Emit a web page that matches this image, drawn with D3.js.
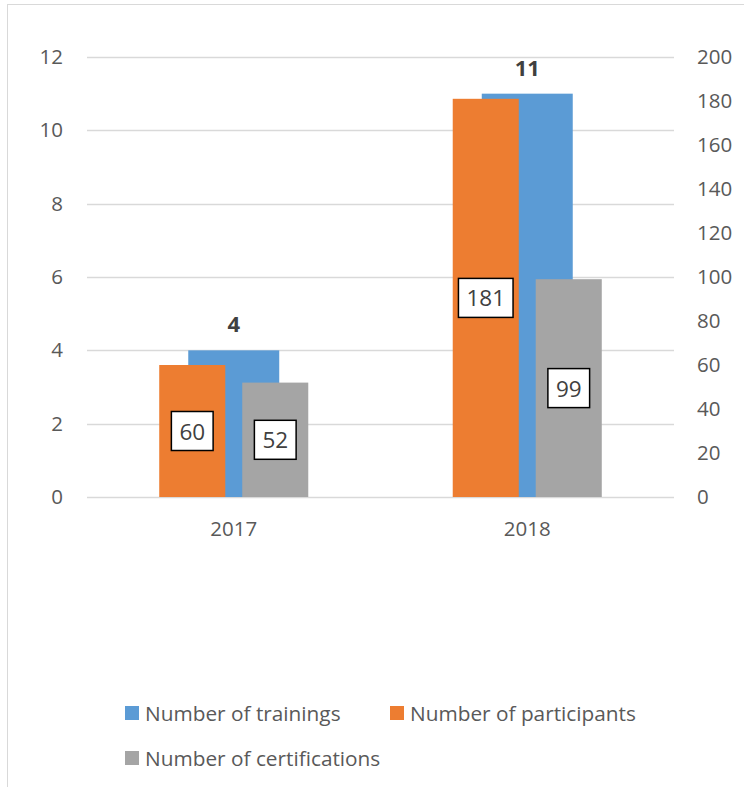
<!DOCTYPE html>
<html><head><meta charset="utf-8">
<script src="https://cdn.jsdelivr.net/npm/d3@7"></script>
<style>
html,body{margin:0;padding:0;background:#fff;}
svg{display:block;font-family:"Open Sans",sans-serif;}
</style></head><body>
<svg id="c" width="744" height="787"></svg>
<script>
const years = ["2017", "2018"];
const trainings = [4, 11];
const participants = [60, 181];
const certifications = [52, 99];
const leftTicks = [0, 2, 4, 6, 8, 10, 12];
const rightTicks = [0, 20, 40, 60, 80, 100, 120, 140, 160, 180, 200];
const seriesNames = ["Number of trainings", "Number of participants", "Number of certifications"];
const colors = ["#5B9BD5", "#ED7D31", "#A5A5A5"];

const svg = d3.select("#c");
const textColor = "#595959";
const plotL = 87, plotR = 674, plotT = 57, plotB = 497;

// outer border (only top & left visible)
svg.append("rect").attr("x", 7.5).attr("y", 4.5).attr("width", 800).attr("height", 900)
  .attr("fill", "none").attr("stroke", "#d9d9d9").attr("stroke-width", 1);

const x = d3.scaleBand().domain(years).range([plotL, plotR]).padding(0);
const yL = d3.scaleLinear().domain([0, 12]).range([plotB, plotT]);
const yR = d3.scaleLinear().domain([0, 200]).range([plotB, plotT]);
const bw = x.bandwidth();

// gridlines
svg.append("g").selectAll("line").data(leftTicks).join("line")
  .attr("x1", plotL).attr("x2", plotR)
  .attr("y1", d => Math.round(yL(d)) + 0.5).attr("y2", d => Math.round(yL(d)) + 0.5)
  .attr("stroke", "#d9d9d9").attr("stroke-width", 1.3);

// left axis
const axL = svg.append("g").attr("transform", `translate(${plotL},0)`)
  .call(d3.axisLeft(yL).tickValues(leftTicks).tickSize(0).tickPadding(24));
axL.select(".domain").remove();
axL.selectAll("text").attr("fill", textColor).style("font-size", "20.5px").style("font-family", "Open Sans");

// right axis
const axR = svg.append("g").attr("transform", `translate(${plotR},0)`)
  .call(d3.axisRight(yR).tickValues(rightTicks).tickSize(0).tickPadding(23));
axR.select(".domain").remove();
axR.selectAll("text").attr("fill", textColor).style("font-size", "20.5px").style("font-family", "Open Sans");

// bottom axis
const axB = svg.append("g").attr("transform", `translate(0,${plotB})`)
  .call(d3.axisBottom(x).tickSize(0).tickPadding(24));
axB.select(".domain").remove();
axB.selectAll("text").attr("fill", textColor).style("font-size", "20.5px").style("font-family", "Open Sans");

const blueW = bw * 0.31;
const secW = bw * 0.225;
const secOff = bw * 0.1414;

// trainings bars (primary)
svg.append("g").selectAll("rect").data(years).join("rect")
  .attr("x", d => x(d) + bw / 2 - blueW / 2)
  .attr("y", (d, i) => yL(trainings[i]))
  .attr("width", blueW)
  .attr("height", (d, i) => yL(0) - yL(trainings[i]))
  .attr("fill", colors[0]);

// participants (secondary)
svg.append("g").selectAll("rect").data(years).join("rect")
  .attr("x", d => x(d) + bw / 2 - secOff - secW / 2)
  .attr("y", (d, i) => yR(participants[i]))
  .attr("width", secW)
  .attr("height", (d, i) => yR(0) - yR(participants[i]))
  .attr("fill", colors[1]);

// certifications (secondary)
svg.append("g").selectAll("rect").data(years).join("rect")
  .attr("x", d => x(d) + bw / 2 + secOff - secW / 2)
  .attr("y", (d, i) => yR(certifications[i]))
  .attr("width", secW)
  .attr("height", (d, i) => yR(0) - yR(certifications[i]))
  .attr("fill", colors[2]);

// bold labels for trainings
svg.append("g").selectAll("text").data(years).join("text")
  .attr("x", d => x(d) + bw / 2)
  .attr("y", (d, i) => yL(trainings[i]) - 18)
  .attr("text-anchor", "middle")
  .attr("fill", "#404040").style("font-size", "22px").style("font-weight", "bold")
  .text((d, i) => trainings[i]);

// boxed labels
function boxed(values, offset) {
  const g = svg.append("g");
  years.forEach((yr, i) => {
    const cx = x(yr) + bw / 2 + offset;
    const cy = (yR(values[i]) + yR(0)) / 2;
    const t = g.append("text").attr("x", cx).attr("y", cy)
      .attr("text-anchor", "middle").attr("dominant-baseline", "central")
      .attr("fill", "#404040").style("font-size", "22.5px").text(values[i]);
    const w = t.node().getComputedTextLength() + 16;
    const h = 39;
    g.insert("rect", "text").attr("x", cx - w / 2).attr("y", cy - h / 2)
      .attr("width", w).attr("height", h)
      .attr("fill", "#fff").attr("stroke", "#000").attr("stroke-width", 1.5);
  });
}
boxed(participants, -secOff);
boxed(certifications, secOff);

// legend
const legendItems = [
  {name: seriesNames[0], color: colors[0], x: 125, y: 713},
  {name: seriesNames[1], color: colors[1], x: 390, y: 713},
  {name: seriesNames[2], color: colors[2], x: 125, y: 758}
];
const lg = svg.append("g");
legendItems.forEach(it => {
  lg.append("rect").attr("x", it.x).attr("y", it.y - 7).attr("width", 14).attr("height", 14).attr("fill", it.color);
  lg.append("text").attr("x", it.x + 20).attr("y", it.y).attr("dominant-baseline", "central")
    .attr("fill", textColor).style("font-size", "20.8px").text(it.name);
});
</script>
</body></html>
